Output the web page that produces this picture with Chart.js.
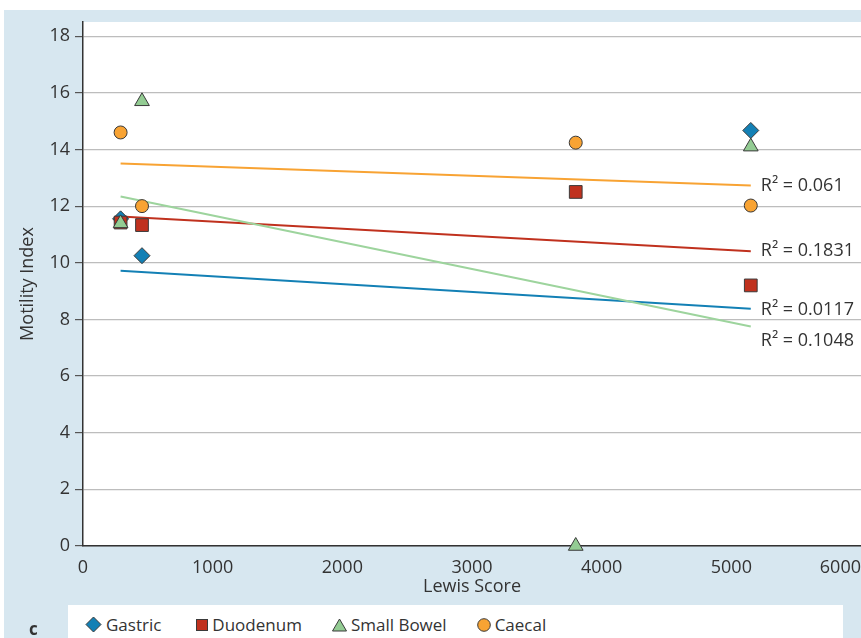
<!DOCTYPE html>
<html>
<head>
<meta charset="utf-8">
<script src="https://cdn.jsdelivr.net/npm/chart.js@4"></script>
<style>
  html, body { margin: 0; padding: 0; background: #fff; overflow: hidden; width: 861px; height: 638px; }
  #bg { position: absolute; left: 4px; top: 10px; width: 857px; height: 628px; background: #d7e7f0; }
  #wrap { position: absolute; left: 0; top: 0; width: 900px; height: 638px; }
  #legend { position: absolute; left: 68px; top: 605px; width: 775px; height: 40px; background: #fff;
    font-family: 'Open Sans', sans-serif; font-size: 17px; color: #333; display: flex; align-items: center;
    padding-left: 17px; padding-bottom: 1px; box-sizing: border-box; }
  #legend .item { display: flex; align-items: center; margin-right: 30px; }
  #legend .item:first-child { margin-right: 35px; }
  #legend svg { margin-right: 4px; }
  #panel { position: absolute; left: 29px; top: 617px; font-family: 'Open Sans', sans-serif; font-size: 17px; font-weight: bold; color: #333; }
</style>
</head>
<body>
<div id="bg"></div>
<div id="wrap"><canvas id="myChart" width="900" height="638"></canvas></div>
<div id="legend"></div>
<div id="panel">c</div>
<script>
// Lewis score of each patient
const lewisScore = [290, 455, 3800, 5150];
const gastricX = [290, 455, 5150];

// motility index per segment
const gastric = [11.55, 10.25, 14.67];
const duodenum = [11.42, 11.33, 12.5, 9.2];
const smallBowel = [11.39, 15.7, 0, 14.1];
const caecal = [14.6, 12.0, 14.24, 12.02];

// linear trend lines (start, end) and R squared
const trendX = [290, 5150];
const gastricTrend = [9.72, 8.38];
const duodenumTrend = [11.63, 10.41];
const smallBowelTrend = [12.34, 7.75];
const caecalTrend = [13.5, 12.73];
const r2 = ['0.0117', '0.1831', '0.1048', '0.061'];

const names = ['Gastric', 'Duodenum', 'Small Bowel', 'Caecal'];
const colors = ['#1380b5', '#c0311e', '#93cc93', '#f8a333'];
const lineColors = ['#1380b5', '#c0311e', '#9dd49d', '#f8a333'];
const shapes = ['rectRot', 'rect', 'triangle', 'circle'];
const radii = [8, 9, 8.5, 6.5];

const yTicks = [0, 2, 4, 6, 8, 10, 12, 14, 16, 18];
const xTicks = [0, 1000, 2000, 3000, 4000, 5000, 6000];

const font = "'Open Sans', 'DejaVu Sans', sans-serif";

function pts(xs, ys) {
    return ys.map((y, i) => ({x: xs[i], y: y}));
}

const series = [pts(gastricX, gastric), pts(lewisScore, duodenum), pts(lewisScore, smallBowel), pts(lewisScore, caecal)];
const trends = [gastricTrend, duodenumTrend, smallBowelTrend, caecalTrend];

let datasets = [];
series.forEach((d, i) => {
    datasets.push({
        label: names[i],
        data: d,
        pointStyle: shapes[i],
        pointRadius: radii[i],
        backgroundColor: colors[i],
        borderColor: '#3a3a3a',
        borderWidth: 1,
        showLine: false,
        clip: false,
        order: 4 - i
    });
});
trends.forEach((t, i) => {
    datasets.push({
        label: 'trend ' + names[i],
        data: pts(trendX, t),
        showLine: true,
        pointRadius: 0,
        borderColor: lineColors[i],
        borderWidth: 2,
        order: 10 - i
    });
});

const plotBg = {
    id: 'plotBg',
    beforeDraw(chart) {
        const a = chart.chartArea;
        const c = chart.ctx;
        c.save();
        c.fillStyle = '#fff';
        c.fillRect(a.left, a.top, 861 - a.left, a.bottom - a.top);
        c.restore();
    }
};

// R² text next to the end of each trend line
const r2Labels = {
    id: 'r2Labels',
    afterDatasetsDraw(chart) {
        const c = chart.ctx;
        const xs = chart.scales.x, ys = chart.scales.y;
        const dy = [1, 0, 14, 0];
        c.save();
        c.font = '18px ' + font;
        c.fillStyle = '#333';
        c.textBaseline = 'middle';
        trends.forEach((t, i) => {
            c.fillText('R\u00b2 = ' + r2[i], xs.getPixelForValue(trendX[1]) + 10, ys.getPixelForValue(t[1]) + dy[i]);
        });
        c.restore();
    }
};

const ctx = document.getElementById('myChart');

new Chart(ctx, {
    type: 'scatter',
    data: { datasets: datasets },
    plugins: [plotBg, r2Labels],
    options: {
        responsive: false,
        animation: false,
        devicePixelRatio: 1,
        layout: { padding: { top: 22, left: 0, right: 39, bottom: 0 } },
        plugins: {
            legend: { display: false },
            tooltip: { enabled: false }
        },
        scales: {
            x: {
                type: 'linear',
                min: 0,
                max: 6000,
                afterFit: (s) => { s.height = 92; },
                // blank leading tick so only the last label gets pulled inside the edge
                afterBuildTicks: (s) => { s.ticks = [{value: -1}].concat(xTicks.map(v => ({value: v}))); },
                grid: { display: false },
                border: { display: true, color: '#333', width: 1.5 },
                ticks: { color: '#333', padding: 3, align: 'inner', autoSkip: false, maxRotation: 0,
                    font: { size: 18, family: font }, callback: (v) => v < 0 ? '' : String(v) },
                title: { display: true, text: 'Lewis Score', color: '#333', padding: { bottom: 40 }, font: { size: 18, family: font } }
            },
            y: {
                min: 0,
                max: 18.5,
                afterFit: (s) => { s.width = 83; },
                afterBuildTicks: (s) => { s.ticks = yTicks.map(v => ({value: v})); },
                grid: { color: '#bdbdbd', lineWidth: 1.2, tickColor: '#555', tickLength: 8 },
                border: { display: true, color: '#333', width: 1.5 },
                ticks: { color: '#333', padding: 5, font: { size: 18, family: font } },
                title: { display: true, text: 'Motility Index', color: '#333', padding: { top: 17 }, font: { size: 18, family: font } }
            }
        }
    }
});

// legend built from the series
const legendMarks = [
    '<svg width="17" height="17" viewBox="0 0 17 17"><polygon points="8.5,1 16,8.5 8.5,16 1,8.5" /></svg>',
    '<svg width="12" height="12" viewBox="0 0 12 12"><rect x="0.5" y="0.5" width="11" height="11" /></svg>',
    '<svg width="15" height="14" viewBox="0 0 15 14"><polygon points="7.5,1 14.5,13 0.5,13" /></svg>',
    '<svg width="14" height="14" viewBox="0 0 14 14"><circle cx="7" cy="7" r="6.3" /></svg>'
];
const lg = document.getElementById('legend');
names.forEach((n, i) => {
    const mark = legendMarks[i].replace('<svg ', '<svg fill="' + colors[i] + '" stroke="#3a3a3a" stroke-width="1" ');
    lg.innerHTML += '<span class="item">' + mark + n + '</span>';
});
</script>
</body>
</html>
